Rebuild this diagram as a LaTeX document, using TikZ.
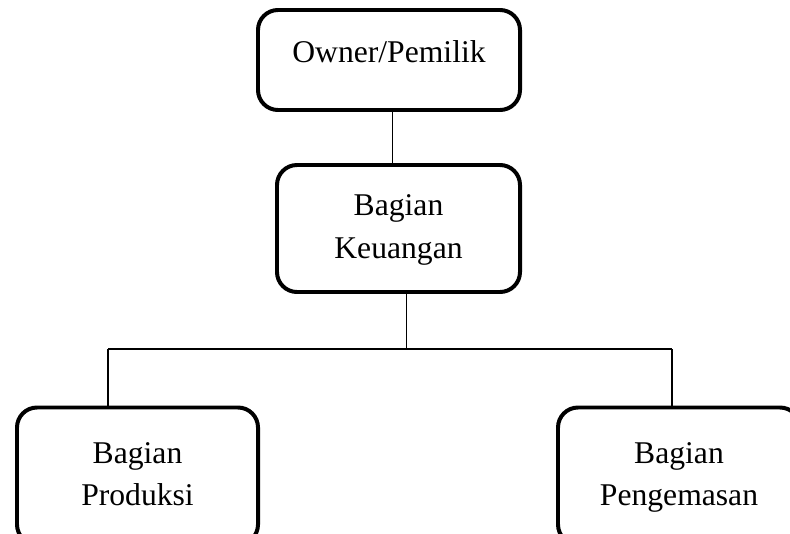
\documentclass[tikz,border=0pt]{standalone}
\usepackage{fontspec}
\setmainfont{Liberation Serif}
\usetikzlibrary{positioning,calc}
\tikzset{>=latex}
\tikzset{
  unit/.style={draw, line width=3.4pt, rounded corners=0.6cm, align=center,
    font=\fontsize{27}{36}\selectfont, inner sep=0pt},
  link/.style={line width=0.9pt}
}

\begin{document}
\begin{tikzpicture}[x=0.03cm, y=-0.03cm]
    \useasboundingbox (0,0) rectangle (790,533);
    \clip (0,0) rectangle (790,533);

    \node [unit, minimum width=7.86cm, minimum height=3.0cm,
           text height=20pt, text depth=16pt] (owner) at (389,60) {Owner/Pemilik};
    \node [unit, minimum width=7.29cm, minimum height=3.81cm] (keu) at (398.5,228.5) {Bagian\strut\\Keuangan\strut};
    \node [unit, minimum width=7.23cm, minimum height=4.11cm] (prod) at (137.5,476) {Bagian\strut\\Produksi\strut};
    \node [unit, minimum width=7.26cm, minimum height=4.11cm] (peng) at (679,476) {Bagian\strut\\Pengemasan\strut};

    \coordinate (busL) at (108,349);
    \coordinate (busR) at (672,349);

    \draw [link] ([xshift=3]owner.south) -- ([xshift=3]owner.south |- keu.north);
    \draw [link] ([xshift=6.5]keu.south) -- ([xshift=6.5]keu.south |- busL);
    \draw [link] (busL) -- (busR);
    \draw [link] (busL) -- (busL |- prod.north);
    \draw [link] (busR) -- (busR |- peng.north);
\end{tikzpicture}
\end{document}
